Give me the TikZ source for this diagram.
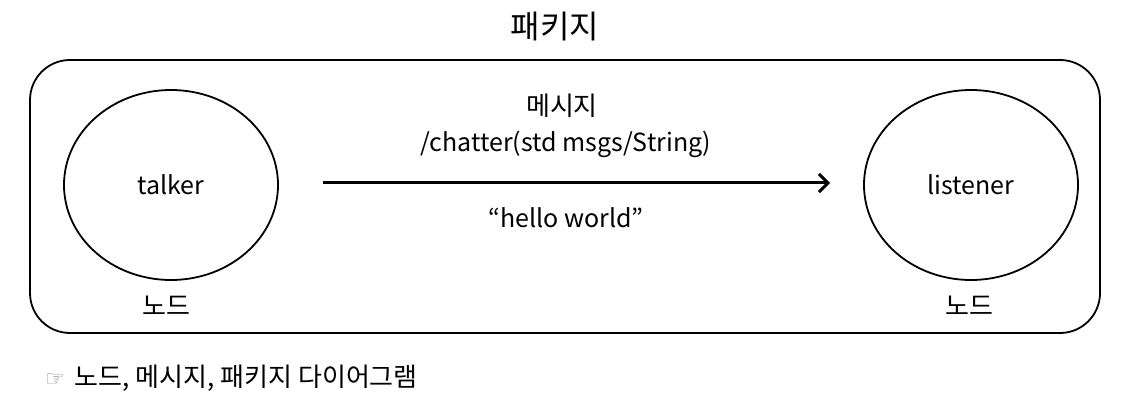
\documentclass[tikz,border=0pt]{standalone}
\usepackage{fontspec}
\setmainfont{Noto Sans CJK KR}
\newfontfamily\symfont{DejaVu Sans}
\usetikzlibrary{arrows.meta,shapes.geometric}
\begin{document}
\begin{tikzpicture}[x=1pt,y=-1pt,
  txt/.style={font=\fontsize{25}{29}\selectfont, inner sep=0pt, text=black},
  kor/.style={font=\fontsize{26}{30}\selectfont, inner sep=0pt, text=black},
  nodeell/.style={draw, line width=1.8pt, ellipse, minimum width=214pt, minimum height=190pt, inner sep=0pt},
  frame/.style={draw, line width=1.8pt, rounded corners=40pt}]
\useasboundingbox (0,0) rectangle (1123,411);
\node[kor, font=\fontsize{32}{36}\selectfont] (title) at (555,27) {패키지};
\draw[frame] (30,60) rectangle (1100,333);
\node[nodeell, txt] (talker) at (171,185) {talker};
\node[nodeell, txt] (listener) at (971,185) {listener};
\coordinate (as) at (323,183);
\coordinate (ae) at (830,183);
\draw[line width=3pt, -{Straight Barb[length=9pt,width=18pt,line width=3pt]}] (as) -- (ae);
\node[kor] (msg) at (562,106) {메시지};
\node[txt] (topic) at (566,144) {/chatter(std msgs/String)};
\node[txt] (hello) at (566,218) {“hello world”};
\node[kor] (n1) at (166,306) {노드};
\node[kor] (n2) at (969,306) {노드};
\node[kor, anchor=west] (cap) at (45,378) {{\symfont\fontsize{22}{24}\selectfont\color{black!45}☞}\hspace{10pt}노드, 메시지, 패키지 다이어그램};
\end{tikzpicture}
\end{document}
